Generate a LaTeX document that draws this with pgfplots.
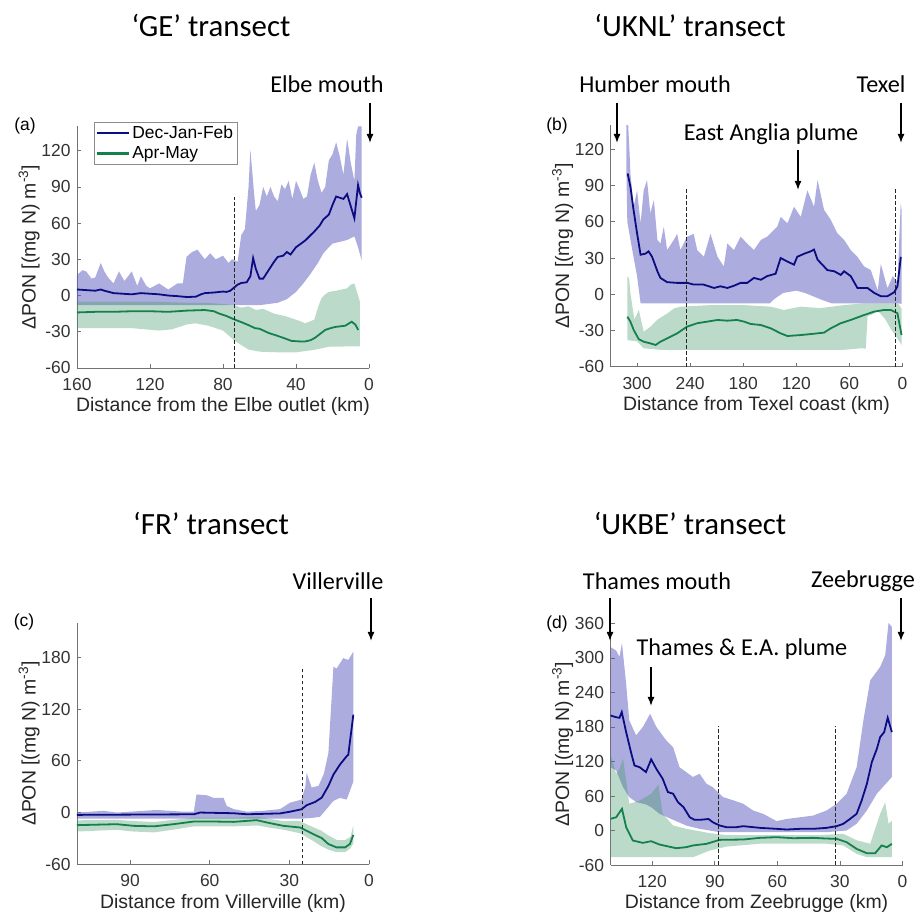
\documentclass[border=0pt]{standalone}
\usepackage{pgfplots}
\pgfplotsset{compat=1.18}
\usepackage{fontspec}
\setmainfont{Liberation Sans}
\newfontfamily\calibri{Carlito}
\usetikzlibrary{arrows.meta}
\definecolor{bline}{RGB}{12,12,130}
\definecolor{gline}{RGB}{20,128,78}
\definecolor{bfill}{RGB}{90,90,190}
\definecolor{gfill}{RGB}{60,150,100}
\pgfplotsset{
  panel/.style={
    scale only axis, width=292bp, height=241.5bp,
    x dir=reverse,
    axis x line*=bottom, axis y line*=left,
    tick align=inside,
    major tick length=4bp,
    axis line style={black!55, line width=0.6bp},
    every tick/.style={black!55, line width=0.6bp},
    tick label style={font=\fontsize{17.5}{19}\selectfont, text=black!80},
    xticklabel style={yshift=-7bp},
    yticklabel style={xshift=-3bp},
    label style={font=\fontsize{19.5}{22}\selectfont, text=black!85},
    ylabel style={yshift=-5bp},
    /pgf/number format/assume math mode=true,
    ylabel={ΔPON [(mg N) m\textsuperscript{-3}]},
    xtick pos=bottom, ytick pos=left,
  },
  bf/.style={fill=bfill, fill opacity=0.5, draw=none, forget plot},
  gf/.style={fill=gfill, fill opacity=0.35, draw=none, forget plot},
  bl/.style={color=bline, line width=1.8bp, mark=none, forget plot},
  gl/.style={color=gline, line width=1.8bp, mark=none, forget plot},
  dl/.style={black!85, line width=0.9bp, dash pattern=on 3.5bp off 2.5bp, forget plot},
}
\begin{document}
\begin{tikzpicture}[x=1bp,y=1bp]
\useasboundingbox (0,0) rectangle (917,918);
% ---------------- (a)
\begin{axis}[panel, at={(77bp,550bp)}, anchor=south west,
  xmin=0, xmax=160, ymin=-60, ymax=140,
  xtick={0,40,80,120,160}, ytick={-60,-30,0,30,60,90,120},
  xlabel={Distance from the Elbe outlet (km)},
  legend style={at={(axis description cs:0.058,1.02)}, anchor=north west,
    draw=black!45, font=\fontsize{17.5}{19}\selectfont, inner sep=2bp,
    row sep=3bp, cells={anchor=west}},
  legend image code/.code={\draw[#1, line width=2.2bp] (0bp,0.3bp) -- (32bp,0.3bp);},
]
\addplot[bf] coordinates {(160,17)(157,21)(155,20)(152,14)(150,15)(147,27)(145,20)(143,15)(140,10)(137,20)(134,12)(130,20)(127,8)(125,16)(122,8)(120,6)(115,10)(110,5)(105,10)(102,10)(100,32)(97,36)(94,38)(90,30)(87,35)(84,30)(80,33)(77,27)(75,30)(72,28)(70,50)(68,55)(66,90)(65,121)(63,85)(62,70)(60,75)(58,90)(56,82)(54,90)(52,82)(50,78)(48,92)(46,88)(44,95)(42,80)(40,95)(38,88)(36,80)(34,82)(32,100)(30,110)(28,95)(26,85)(24,90)(22,112)(20,117)(18,127)(16,115)(14,100)(12,130)(10,110)(8,95)(7,133)(6,140)(4,140)
 (4,29)(6,40)(8,49)(12,46)(20,43)(22,40)(25,35)(28,27)(32,18)(36,10)(40,3)(45,-3)(50,-6)(55,-7)(60,-8)(70,-8)(80,-8)(100,-8)(120,-8)(140,-8)(160,-8)};
\addplot[gf] coordinates {(160,-5)(140,-5)(120,-5)(100,-6)(90,-6)(80,-7)(74,-8)(70,-10)(66,-9)(62,-12)(58,-11)(52,-15)(46,-17)(42,-19)(38,-21)(35,-23)(30,-20)(28,-10)(26,-2)(24,1)(22,3)(18,4)(15,5)(12,6)(10,9)(8,10)(6,0)(5,-5)
 (5,-42)(22,-42.4)(30,-45)(40,-47)(50,-47)(60,-46.5)(66,-44.7)(70,-41)(74,-37)(80,-29)(88,-25)(95,-23)(100,-24)(108,-28)(115,-29)(130,-27)(160,-27)};
\addplot[bl] coordinates {(160,5)(155,4.5)(150,4)(147,5)(145,4)(140,2)(135,1.5)(130,1)(125,2)(120,1.5)(115,1)(110,0)(105,-0.5)(100,-1.2)(95,-1)(92,1)(90,2)(85,2.5)(80,3.3)(78,3)(76,4)(74,6.5)(72,9)(70,10.4)(67,11)(65,16)(63.5,31)(62,22)(60,14)(58,14)(55,21)(52,28)(50,32)(47,33)(45,36)(43,34)(40,40)(35,45.5)(30,53)(27,58)(25,63)(22,67)(20,75)(18,82)(16,81)(14,80)(12,84)(10,74)(8,64)(7,78)(6,91.5)(5,85)(4,81)};
\addplot[gl] coordinates {(160,-14)(150,-13.5)(140,-13.5)(130,-13)(120,-13)(110,-13.5)(100,-12.5)(90,-12)(85,-13)(82,-15)(78,-17)(74,-19.7)(70,-22)(66,-24.5)(62.5,-27)(60,-27.5)(55,-31)(51.5,-32.7)(47,-35)(42.4,-37.6)(38,-38)(35,-38)(32,-37)(29.6,-35)(27,-32)(24,-28.5)(21,-27)(18.5,-26)(13,-25)(9.5,-21.7)(7.5,-24)(5.9,-28.5)};
\addplot[dl] coordinates {(74,-60)(74,82)};
\addlegendimage{color=bline}
\addlegendentry{Dec-Jan-Feb}
\addlegendimage{color=gline}
\addlegendentry{Apr-May}
\end{axis}
% ---------------- (b)
\begin{axis}[panel, at={(610.5bp,551.3bp)}, anchor=south west,
  xmin=0, xmax=330, ymin=-60, ymax=140,
  xtick={0,60,120,180,240,300}, ytick={-60,-30,0,30,60,90,120},
  xlabel={Distance from Texel coast (km)},
]
\addplot[bf] coordinates {(312,140)(310,140)(308,110)(307.5,100)(303.8,72.5)(300,86)(296,58.7)(292.5,86)(288.7,94.6)(285,67)(281,78)(277,45)(273.6,42)(269.8,56)(266,36.6)(258.5,45)(254.7,50)(251,36.6)(243.4,47.6)(236,50)(232,36.6)(224.5,31)(217,50)(209,31)(202,23)(198,42)(190.6,36.6)(183,47.6)(175.5,42)(168,36.6)(160,45)(153,47.6)(141.5,56)(137.7,64)(130,58.7)(122.6,72.5)(115,64)(107.5,86)(100,72.5)(96,94.6)(88.7,70)(81,61.5)(73.6,50.4)(66,45)(58.5,36.6)(51,31)(43.4,23)(35.8,20)(28,3)(24.5,25)(17,5)(11,15)(5.7,10)(2,75)(1,70)
 (1,-8)(5,-7.5)(80,-7.5)(90,-5)(100,-2)(110,1)(120,3)(135,1)(145,-4)(150,-7.5)(296,-7.5)(300,15)(305,35)(311,60)(312,100)};
\addplot[gf] coordinates {(311,15)(309,13)(307.5,0.7)(303,-21)(298,-13)(292.5,-31)(285,-27)(277,-21)(266,-16)(258,-11.7)(251,-10.3)(217,-9)(179,-9)(149,-10.3)(134,-13)(115,-10.3)(93,-11.5)(66,-9)(43.4,-7.5)(5,-7.5)(1,-12)
 (1,-42)(8,-34)(13,-29)(20,-20)(28,-14)(35,-17)(39.5,-18)(41.5,-45)(47,-44.8)(66,-46)(217,-46)(273.6,-46)(292.5,-44.8)(300,-39)(311,-38)};
\addplot[bl] coordinates {(310.6,100)(307.5,89)(304,70)(300,50.6)(296,32.7)(290.5,33.6)(287,35.5)(283,31)(277,19)(273.6,13.5)(266,10)(254.7,9.4)(243,9.4)(236,8)(225,8)(213,5.2)(205.7,6.6)(198,5.2)(190.6,7)(183,9.4)(175.5,9.4)(168,13.5)(160,12)(153,15)(143.4,17)(137.7,30)(130,27)(122.6,24.5)(119,31)(111,33.6)(103.8,35.5)(100,37)(96,28.6)(88.7,23)(85,20)(77,19)(69.8,16)(66,19)(58.5,15)(51,5.2)(39.6,5.2)(32,1.1)(24.5,-1.6)(17,-1.6)(9.4,1.6)(5.7,6.6)(1.9,31)};
\addplot[gl] coordinates {(311,-18.6)(307.5,-22.7)(303.8,-29.6)(298,-37.3)(292.5,-39.3)(285,-40.7)(279,-42)(273.6,-39.3)(266,-36.5)(254.7,-32.4)(243.4,-26.8)(232,-24)(220.8,-22.7)(209,-21.3)(198,-21.9)(187,-21.3)(179,-22.7)(171.7,-24.6)(160,-25.5)(149,-28.2)(137.7,-32.4)(130,-34.6)(115,-33.8)(104,-33)(88.7,-31.8)(81,-28.2)(69.8,-24)(58.5,-21.3)(43.4,-17.2)(32,-14.4)(20.8,-13)(13.2,-13)(5.7,-15.8)(1.1,-33.8)};
\addplot[dl] coordinates {(244.6,-60)(244.6,88)};
\addplot[dl] coordinates {(7.6,-60)(7.6,88)};
\end{axis}
% ---------------- (c)
\begin{axis}[panel, at={(77bp,53.7bp)}, anchor=south west,
  xmin=0, xmax=110, ymin=-60, ymax=220,
  xtick={0,30,60,90}, ytick={-60,0,60,120,180},
  xlabel={Distance from Villerville (km)},
]
\addplot[bf] coordinates {(110,0)(100,2)(95,0)(85,2)(80,3)(70,1)(66,1)(65,21)(61,20)(58.6,17)(54.8,17)(53.6,7.7)(51,4)(46,1)(40,2)(33.5,4)(29.7,11.5)(25.4,15)(24,30)(23.5,46)(21.6,29)(19,31)(17,45)(15.3,69)(13.4,169)(12.2,167)(9.7,179)(7.8,177)(5.9,186.5)
 (5.9,36)(8.4,15)(11,17)(13.4,13.5)(16,4)(18.5,-5)(21,-6)(25,-7)(30,-7)(60,-7)(90,-7)(110,-7)};
\addplot[gf] coordinates {(110,-9)(95,-8.5)(88,-10)(81,-11)(74,-8.5)(66,-6)(58,-6)(51,-6)(42,-5)(38,-7)(32,-10)(26,-10)(21,-17)(18,-21)(15,-27)(12,-32)(9,-32)(7,-28)(5.9,-15)
 (5.9,-36)(7.2,-42)(9,-46)(12.2,-46)(15.3,-43)(18.5,-38)(21,-33)(26,-24)(32,-20)(38.5,-17)(42,-15)(51,-16)(58,-16)(66,-16)(74,-20)(81,-23)(88.7,-22)(95,-20)(110,-22)};
\addplot[bl] coordinates {(110,-2.7)(66,-2)(63.6,0)(51,-0.8)(46,-2)(33.5,-1)(29.7,1)(25.4,3.8)(23.5,8.5)(20.3,12.3)(17.8,17.3)(15.3,30.8)(13.4,44)(10.9,55.8)(8.4,65.4)(7.8,67)(5.9,113.5)};
\addplot[gl] coordinates {(110,-14.6)(95,-13.5)(88.7,-15.4)(81,-16)(73.7,-13.5)(66,-10.4)(58.6,-10.4)(51,-10.8)(42.3,-8.8)(38.5,-11.5)(32.3,-15.4)(26,-17.3)(21,-25)(17.8,-29.6)(15.3,-36.5)(12.2,-40.4)(9,-40.4)(7.2,-36.5)(5.9,-26)};
\addplot[dl] coordinates {(25,-60)(25,167)};
\end{axis}
% ---------------- (d)
\begin{axis}[panel, at={(610.5bp,53bp)}, anchor=south west,
  xmin=0, xmax=140, ymin=-60, ymax=360,
  xtick={0,30,60,90,120}, ytick={-60,0,60,120,180,240,300,360},
  xlabel={Distance from Zeebrugge (km)},
]
\addplot[bf] coordinates {(140,319)(137.3,313)(135.7,302)(134.5,326)(132.5,255)(131,191.6)(127.7,165.5)(124.5,180)(121,203)(118,180)(113.3,156.8)(110,145)(106.9,110)(103.7,101.6)(100.5,93)(97.3,98.7)(94,81.3)(91,75.5)(86,58)(81,52.3)(76.4,46.5)(71.6,34.8)(66.8,29)(60.4,16.3)(55.6,20)(49.2,23)(42.8,26)(36.4,34.8)(31.6,46.5)(26.8,64)(22,110)(18.75,191.6)(15.5,261)(10.7,284.6)(8.3,305)(6.7,361)(5.1,354)
 (5.1,93)(12.3,64)(17.1,34.8)(22,11.6)(26.8,0)(36.4,-2.9)(87.7,-2.9)(97.3,2.9)(103.7,8.7)(110,18.6)(116.5,29)(120.5,40.6)(123,45.3)(127.7,49.4)(131,58)(134,75.5)(137.3,104.5)(140,110)};
\addplot[gf] coordinates {(140,133.6)(137.3,98.7)(135.7,107)(134,125)(132.5,87)(131,46.5)(126,52)(120.5,64)(117,80)(115,29)(110,8.7)(103.7,2.9)(92.5,-4.6)(84.5,-8)(60,-8)(40,-8)(28.4,-5.8)(22,-17)(15.5,-23)(10.7,29)(8.3,49)(6.7,11.6)(5.1,17)
 (5.1,-46.5)(17.1,-46.5)(22,-40.6)(28.4,-26)(36.4,-23)(52.4,-23)(68.4,-23)(84.5,-28)(92.5,-35)(100.5,-46.5)(120,-46.5)(140,-46.5)};
\addplot[bl] coordinates {(140,200)(137.3,197)(135.7,196)(134.6,206)(132.5,171)(130,133.6)(128.5,113)(126,110)(123,101.6)(120.5,123.7)(118,107)(115,90)(112.5,66.8)(110,64)(107.7,49.4)(105,40.6)(102,23)(99.7,18.6)(97,18.6)(93,20)(91,14.5)(87.7,8.7)(84.5,5.8)(79.6,5.8)(76.4,7.5)(68.4,4.6)(60.4,2.9)(55.6,1.7)(49.2,2.9)(42.8,2.9)(36.4,4.6)(31.6,7.5)(28.4,11.6)(25.2,20)(22,29)(19.6,52)(17.1,81)(14.7,119)(12.3,142)(10.7,162.6)(8.8,171)(7.1,196)(5.1,171)};
\addplot[gl] coordinates {(140,20.3)(137.3,23)(134.5,37.7)(132.5,5.8)(129.3,-17.4)(124.5,-21.5)(120.5,-18.6)(116.5,-24.4)(108.5,-30.8)(103.7,-29)(100.5,-26)(94,-23.2)(87.7,-16.3)(76.4,-15.7)(68.4,-12.8)(60.4,-11.6)(52.4,-13.4)(42.8,-12.8)(36.4,-14)(31.6,-14.5)(26.8,-20.3)(22,-32)(17.1,-39.5)(13.1,-39.5)(10,-26)(7.5,-29)(5.1,-23.2)};
\addplot[dl] coordinates {(88.3,-60)(88.3,182)};
\addplot[dl] coordinates {(32,-60)(32,182)};
\end{axis}
% ---------------- titles and annotations
\begin{scope}[font=\calibri\fontsize{31}{34}\selectfont]
\node at (211,893) {‘GE’ transect};
\node at (690,893) {‘UKNL’ transect};
\node at (211,395) {‘FR’ transect};
\node at (690,395) {‘UKBE’ transect};
\end{scope}
\begin{scope}[font=\calibri\fontsize{24.3}{27}\selectfont]
\node at (327,834) {Elbe mouth};
\node at (655,834) {Humber mouth};
\node at (881,834) {Texel};
\node at (771,784) {East Anglia plume};
\node at (338,337) {Villerville};
\node at (657,337) {Thames mouth};
\node at (863,337) {Zeebrugge};
\node at (742,269) {Thames \& E.A. plume};
\end{scope}
\begin{scope}[line width=1.5bp, -{Latex[length=9bp,width=7bp]}]
\draw (370,815) -- (370,775);
\draw (617,815) -- (617,775);
\draw (901,815) -- (901,775);
\draw (798,768) -- (798,728);
\draw (371,320) -- (371,277);
\draw (610,320) -- (610,277);
\draw (901,320) -- (901,277);
\draw (651,251) -- (651,212);
\end{scope}
\begin{scope}[font=\fontsize{17.5}{19}\selectfont]
\node at (25,792) {(a)};
\node at (557,792) {(b)};
\node at (24,296) {(c)};
\node at (557,294) {(d)};
\end{scope}
\end{tikzpicture}
\end{document}
